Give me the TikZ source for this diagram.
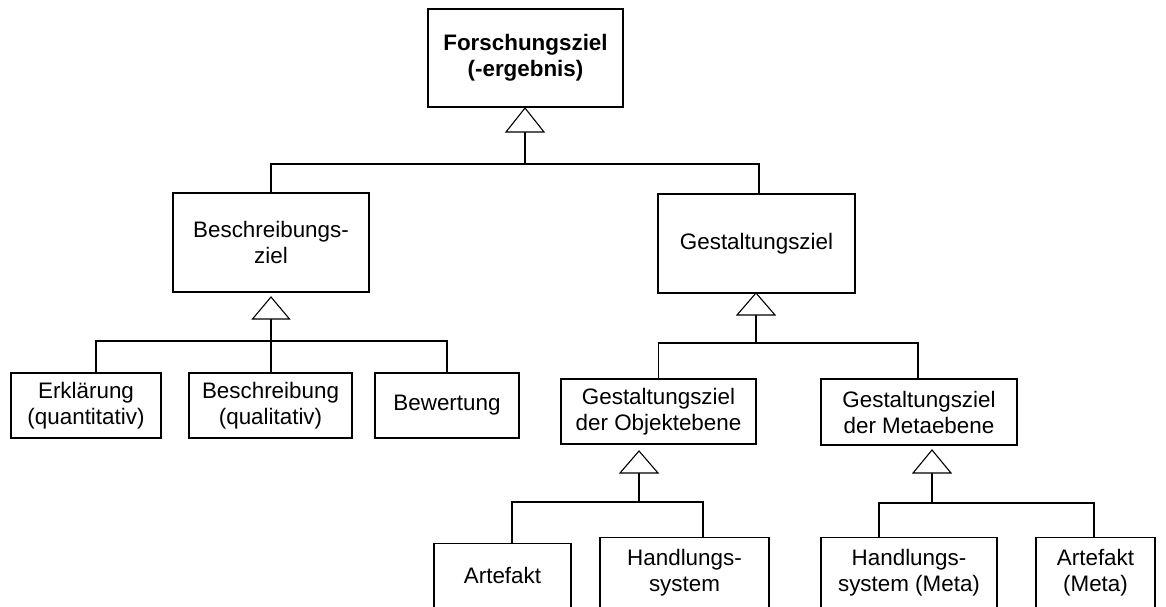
\documentclass[tikz,border=0pt]{standalone}
\usepackage{fontspec}
\setmainfont{Liberation Sans}
\newcommand\diagfont{\fontsize{22.4}{26}\selectfont}
\tikzset{
  box/.style={draw, line width=1.1pt, inner sep=0pt, align=center, font=\diagfont},
  tri/.style={draw, fill=white, line width=1.1pt, line join=miter},
  con/.style={line width=1.1pt}
}
\begin{document}
\begin{tikzpicture}[x=1pt,y=-1pt]
\useasboundingbox (0,0) rectangle (1166,606);
\clip (0,0) rectangle (1166,606);
\fill[white] (0,0) rectangle (1166,606);
% level 0
\node[box, font=\diagfont\bfseries, minimum width=195pt, minimum height=98pt] (F) at (525.5,58) {Forschungsziel\\(-ergebnis)};
% level 1
\node[box, minimum width=196pt, minimum height=99pt] (BZ) at (271,242.5) {Beschreibungs-\\ziel};
\node[box, minimum width=197pt, minimum height=99pt] (GZ) at (756.5,243.5) {Gestaltungsziel};
% level 2 left
\node[box, minimum width=150pt, minimum height=65pt] (E) at (86,405.5) {Erklärung\\(quantitativ)};
\node[box, minimum width=163pt, minimum height=65pt] (BQ) at (270.5,405.5) {Beschreibung\\(qualitativ)};
\node[box, minimum width=144pt, minimum height=65pt] (BW) at (447,405.5) {Bewertung};
% level 2 right
\node[box, minimum width=195pt, minimum height=65pt] (GO) at (658.5,411.5) {Gestaltungsziel\\der Objektebene};
\node[box, minimum width=196pt, minimum height=66pt] (GM) at (919,412) {Gestaltungsziel\\der Metaebene};
% level 3
\node[box, anchor=north, minimum width=137pt, minimum height=64.5pt] (A1) at (502.5,543) {Artefakt};
\node[box, anchor=north, minimum width=169pt, minimum height=70.5pt] (H1) at (684.5,537) {Handlungs-\\system};
\node[box, anchor=north, minimum width=176pt, minimum height=70.5pt] (H2) at (909,537) {Handlungs-\\system (Meta)};
\node[box, anchor=north, minimum width=119pt, minimum height=70.5pt] (A2) at (1095.5,537) {Artefakt\\(Meta)};

% F generalisation
\coordinate (Fa) at (525,108);
\coordinate (Fb) at (525,132);
\coordinate (Fbar) at (525,164);
\draw[con] (Fb) -- (Fbar);
\draw[con] (BZ.north) |- (Fbar) -| ([xshift=2.5pt]GZ.north);
\draw[tri] (Fa) -- ++(-19,24) -- ++(38,0) -- cycle;

% BZ generalisation
\coordinate (BZa) at (271,297);
\coordinate (BZb) at (271,319);
\coordinate (BZbar) at (271,341);
\draw[con] (BZb) -- (BZb |- BQ.north);
\draw[con] ([xshift=10pt]E.north) |- (BZbar) -| (BW.north);
\draw[tri] (BZa) -- ++(-18.5,22) -- ++(37,0) -- cycle;

% GZ generalisation
\coordinate (GZa) at (756,293);
\coordinate (GZb) at (756,315);
\coordinate (GZbar) at (756,343);
\draw[con] (GZb) -- (GZbar);
\draw[con] (GO.north) |- (GZbar) -| ([xshift=-1pt]GM.north);
\draw[tri] (GZa) -- ++(-19,22) -- ++(38,0) -- cycle;

% GO generalisation
\coordinate (GOa) at (639,451);
\coordinate (GOb) at (639,473);
\coordinate (GObar) at (639,502);
\draw[con] (GOb) -- (GObar);
\draw[con] ([xshift=9.5pt]A1.north) |- (GObar) -| ([xshift=18.5pt]H1.north);
\draw[tri] (GOa) -- ++(-19,22) -- ++(38,0) -- cycle;

% GM generalisation
\coordinate (GMa) at (932,450);
\coordinate (GMb) at (932,473);
\coordinate (GMbar) at (932,503);
\draw[con] (GMb) -- (GMbar);
\draw[con] ([xshift=-30pt]H2.north) |- (GMbar) -| ([xshift=-1.5pt]A2.north);
\draw[tri] (GMa) -- ++(-19,23) -- ++(38,0) -- cycle;
\end{tikzpicture}
\end{document}
